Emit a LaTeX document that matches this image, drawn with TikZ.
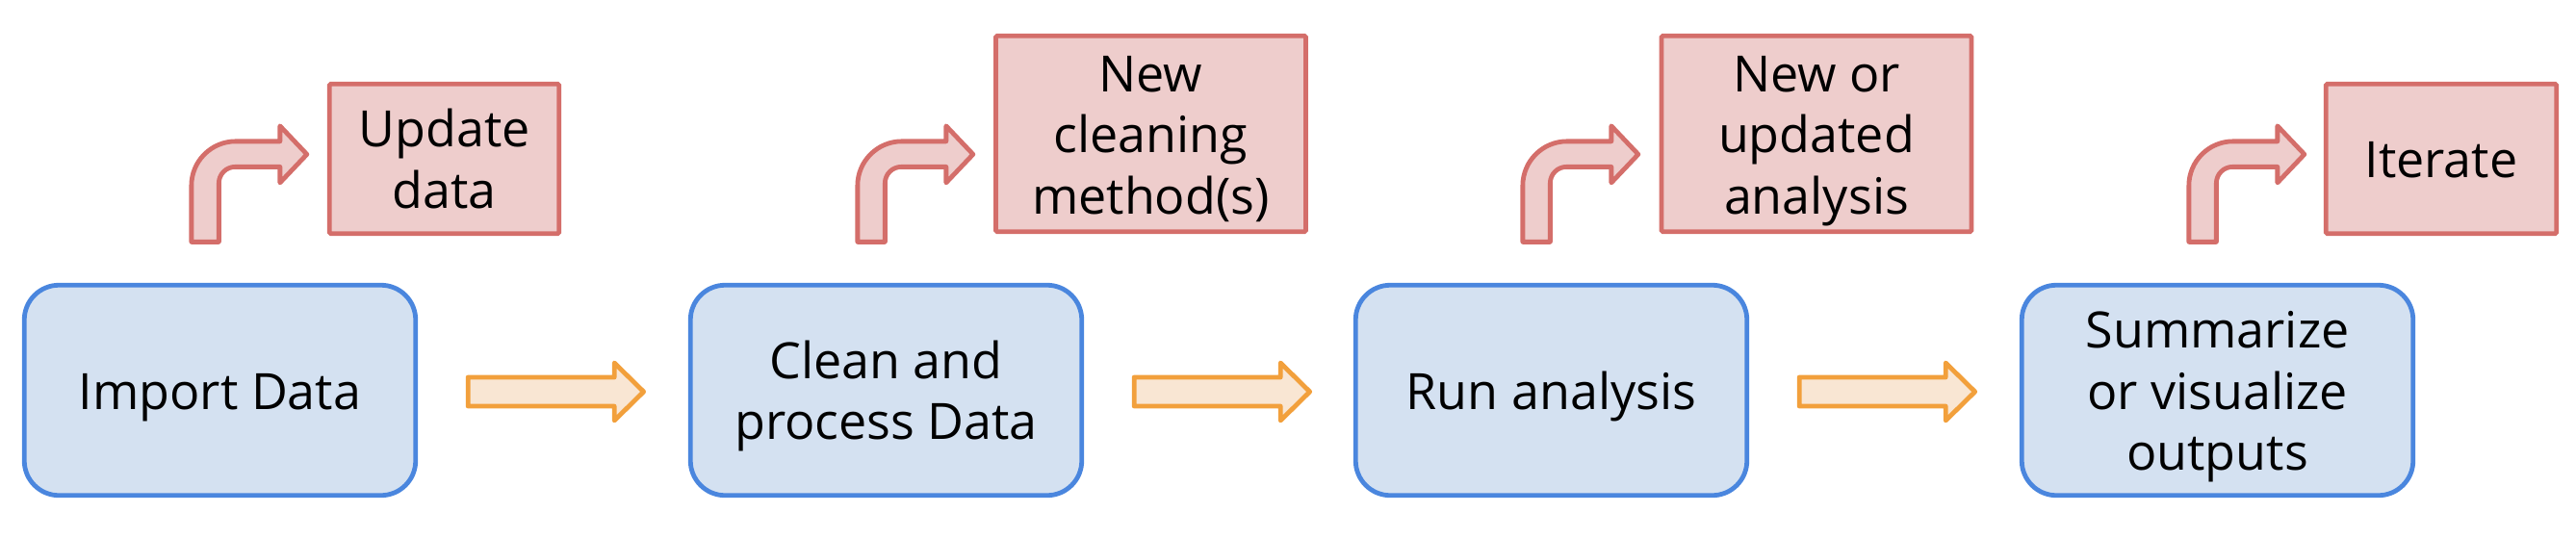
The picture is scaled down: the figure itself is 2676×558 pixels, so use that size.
\documentclass[tikz,border=0pt]{standalone}
\usepackage{fontspec}
\setmainfont{Open Sans}
\usetikzlibrary{calc}
\definecolor{bstroke}{HTML}{4A86DE}
\definecolor{bfill}{HTML}{D4E1F1}
\definecolor{rstroke}{HTML}{D46E6A}
\definecolor{rfill}{HTML}{EECDCC}
\definecolor{ostroke}{HTML}{F2A03C}
\definecolor{ofill}{HTML}{F9E6D3}
\newcommand\boxlines[1]{\raisebox{-7pt}[\height][\depth]{\begin{tabular}{@{}c@{}}#1\end{tabular}}}
\begin{document}
\begin{tikzpicture}[x=1pt,y=-1pt,
  txt/.style={font=\fontsize{52}{63.5}\selectfont},
  stagebox/.style={txt, draw=bstroke, fill=bfill, line width=4.8pt, rounded corners=36pt,
    minimum width=406.5pt, minimum height=218.5pt, inner sep=0pt},
  notebox/.style={txt, draw=rstroke, fill=rfill, line width=4.8pt, rounded corners=1.5pt,
    inner sep=0pt},
  flowarrow/.style={draw=ostroke, fill=ofill, line width=4.8pt, line join=round},
  bentarrow/.style={draw=rstroke, fill=rfill, line width=4.8pt, line join=round}]
\useasboundingbox (0,0) rectangle (2676,558);

% process stages
\node[stagebox] (b1) at (228.5,405.5) {\boxlines{Import Data}};
\node[stagebox] (b2) at (920.5,405.5) {\boxlines{Clean and\\process Data}};
\node[stagebox] (b3) at (1611.5,405.5) {\boxlines{Run analysis}};
\node[stagebox] (b4) at (2303.5,405.5) {\boxlines{Summarize\\or visualize\\outputs}};

% notes
\node[notebox, minimum width=238.5pt, minimum height=155.5pt] (r1) at (461.5,165) {\boxlines{Update\\data}};
\node[notebox, minimum width=322pt, minimum height=203.5pt] (r2) at (1195.5,139) {\boxlines{New\\cleaning\\method(s)}};
\node[notebox, minimum width=322pt, minimum height=203.5pt] (r3) at (1887,139) {\boxlines{New or\\updated\\analysis}};
\node[notebox, minimum width=239.5pt, minimum height=155.5pt] (r4) at (2536,165) {\boxlines{Iterate}};

% block arrows between stages
\foreach \a/\b in {b1/b2,b2/b3,b3/b4}{
  \begin{scope}[shift={(\a.east)}]
    \draw[flowarrow] (52,16.5) -- (52,-13.5) -- (204,-13.5) -- (204,-28.5)
      -- (234.5,1.5) -- (204,31.5) -- (204,16.5) -- cycle;
  \end{scope}
}

% bent arrows to notes
\foreach \b in {b1,b2,b3,b4}{
  \begin{scope}[shift={(\b.north west)}]
    \draw[bentarrow] (176,-42.5) -- (176,-101)
      .. controls (176,-126.4) and (196.6,-147) .. (222,-147)
      -- (268,-147) -- (268,-163) -- (296,-133.5) -- (268,-104) -- (268,-120.5)
      -- (221.5,-120.5) .. controls (212.1,-120.5) and (204.5,-112.9) .. (204.5,-103.5)
      -- (204.5,-42.5) -- cycle;
  \end{scope}
}
\end{tikzpicture}
\end{document}
